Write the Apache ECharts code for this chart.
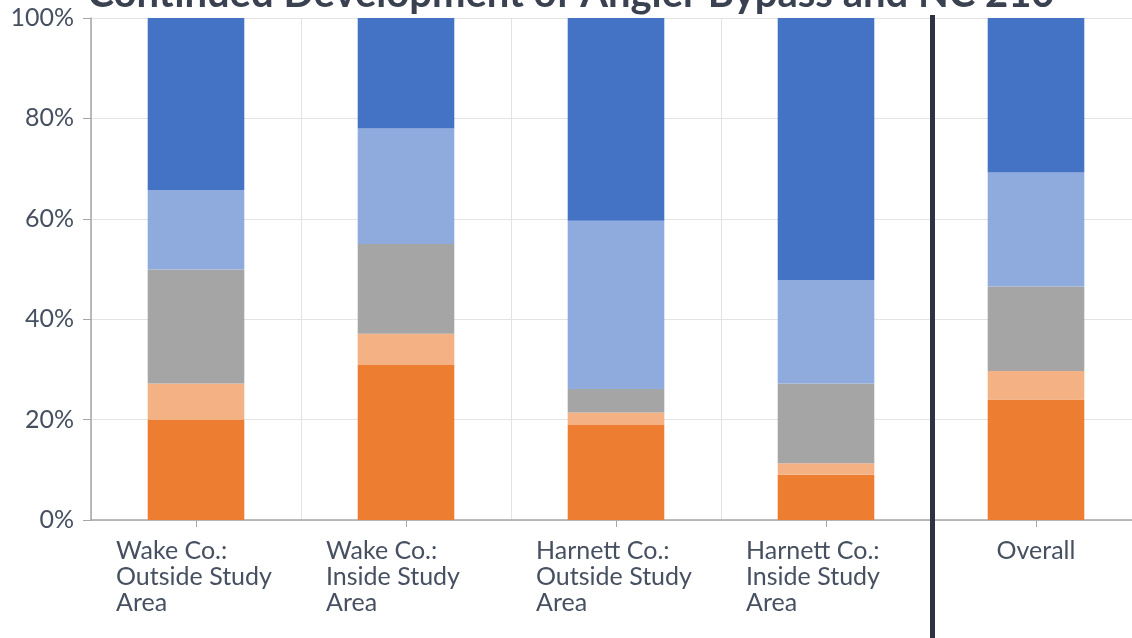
<!DOCTYPE html>
<html>
<head>
<meta charset="utf-8">
<title>Continued Development of Angier Bypass and NC 210</title>
<script src="https://cdn.jsdelivr.net/npm/echarts@6/dist/echarts.min.js"></script>
<style>
  html, body { margin: 0; padding: 0; background: #ffffff; overflow: hidden; width: 1132px; height: 638px; }
  /* the plot runs slightly past the right edge of the window */
  #chart { width: 1150px; height: 638px; }
</style>
</head>
<body>
<div id="chart"></div>
<script>
// Areas compared (line breaks follow the wrapped axis labels)
const categories = [
  'Wake Co.:\nOutside Study\nArea',
  'Wake Co.:\nInside Study\nArea',
  'Harnett Co.:\nOutside Study\nArea',
  'Harnett Co.:\nInside Study\nArea',
  'Overall'
];

// Share of responses per area, in percent, stacked bottom to top
const series1 = [20.0, 30.9, 18.9, 9.0, 24.0];
const series2 = [7.2, 6.2, 2.5, 2.3, 5.7];
const series3 = [22.7, 17.9, 4.7, 15.9, 16.8];
const series4 = [15.8, 23.0, 33.5, 20.6, 22.7];
const series5 = [34.3, 22.0, 40.4, 52.2, 30.8];

const seriesNames = ['Series 1', 'Series 2', 'Series 3', 'Series 4', 'Series 5'];
const seriesColors = ['#ED7D31', '#F4B183', '#A5A5A5', '#8FAADC', '#4472C4'];
const seriesData = [series1, series2, series3, series4, series5];

const yTicks = { min: 0, max: 100, interval: 20 };

const textColor = '#465061';
const fontFamily = 'Lato, "Noto Sans", sans-serif';
const labelSize = 25;

const chart = echarts.init(document.getElementById('chart'), null, { renderer: 'canvas' });

chart.setOption({
  animation: false,
  backgroundColor: '#ffffff',
  title: {
    text: 'Continued Development of Angier Bypass and NC 210',
    left: 566,
    textAlign: 'center',
    top: -31,
    textStyle: {
      fontFamily: fontFamily,
      fontSize: 40,
      fontWeight: 'bold',
      color: '#3a4150'
    }
  },
  grid: {
    left: 91,
    top: 18,
    right: 9,
    bottom: 118,
    containLabel: false
  },
  xAxis: {
    type: 'category',
    data: categories,
    boundaryGap: true,
    axisLine: { show: true, lineStyle: { color: '#a6a6a6', width: 1.5 } },
    axisTick: { show: true, alignWithLabel: true, length: 7, lineStyle: { color: '#a6a6a6' } },
    splitLine: { show: true, lineStyle: { color: '#e3e3e3', width: 1 } },
    axisLabel: {
      margin: 18,
      interval: 0,
      color: textColor,
      fontFamily: fontFamily,
      fontSize: labelSize,
      lineHeight: 26,
      formatter: function (value) {
        if (value.indexOf('\n') === -1) {
          return '{c|' + value + '}';
        }
        return value.split('\n').map(function (line) {
          return '{l|' + line + '}';
        }).join('\n');
      },
      rich: {
        l: {
          width: 160,
          align: 'left',
          color: textColor,
          fontFamily: fontFamily,
          fontSize: labelSize,
          lineHeight: 26
        },
        c: {
          align: 'center',
          color: textColor,
          fontFamily: fontFamily,
          fontSize: labelSize,
          lineHeight: 26
        }
      }
    }
  },
  yAxis: {
    type: 'value',
    min: yTicks.min,
    max: yTicks.max,
    interval: yTicks.interval,
    axisLine: { show: true, lineStyle: { color: '#a6a6a6', width: 1.5 } },
    axisTick: { show: true, length: 8, lineStyle: { color: '#a6a6a6' } },
    splitLine: { show: true, lineStyle: { color: '#e3e3e3', width: 1 } },
    axisLabel: {
      margin: 17,
      color: textColor,
      fontFamily: fontFamily,
      fontSize: labelSize,
      formatter: '{value}%'
    }
  },
  series: seriesData.map(function (values, i) {
    return {
      name: seriesNames[i],
      type: 'bar',
      stack: 'total',
      barWidth: '46%',
      data: values,
      itemStyle: { color: seriesColors[i] },
      emphasis: { disabled: true }
    };
  })
});

// Heavy divider separating the individual areas from the overall bar
const xLeft = chart.convertToPixel({ xAxisIndex: 0 }, categories[3]);
const xRight = chart.convertToPixel({ xAxisIndex: 0 }, categories[4]);
const dividerX = (xLeft + xRight) / 2 + 1.5;

chart.setOption({
  graphic: [{
    type: 'line',
    shape: { x1: dividerX, y1: 15, x2: dividerX, y2: 638 },
    style: { stroke: '#2d3344', lineWidth: 5 },
    z: 100,
    silent: true
  }]
});
</script>
</body>
</html>
